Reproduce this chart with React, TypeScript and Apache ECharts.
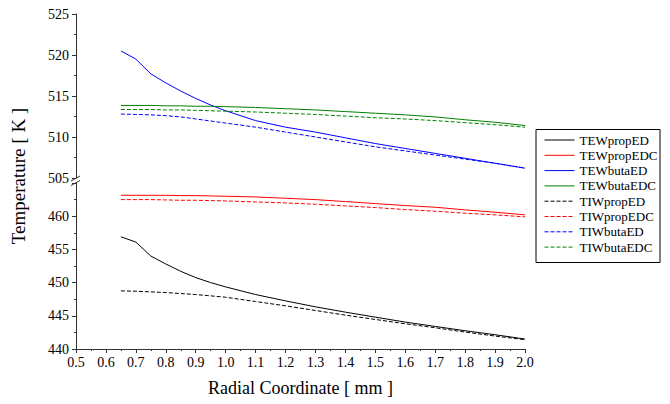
import React, { useEffect, useRef } from "react";
import * as echarts from "echarts";

const xs = [0.65, 0.7, 0.75, 0.8, 0.85, 0.9, 0.95, 1.0, 1.1, 1.2, 1.3, 1.4, 1.5, 1.6, 1.7, 1.8, 1.9, 2.0];

// lower panel (propane)
const TEWpropED = [456.9, 456.1, 454.0, 452.8, 451.7, 450.75, 450.0, 449.35, 448.2, 447.25, 446.35, 445.55, 444.8, 444.05, 443.4, 442.75, 442.15, 441.5];
const TEWpropEDC = [463.15, 463.15, 463.15, 463.15, 463.1, 463.1, 463.05, 463.0, 462.9, 462.7, 462.5, 462.2, 461.9, 461.6, 461.35, 460.95, 460.6, 460.2];
const TIWpropED = [448.75, 448.7, 448.6, 448.5, 448.35, 448.2, 448.0, 447.8, 447.15, 446.5, 445.8, 445.1, 444.45, 443.8, 443.2, 442.55, 441.95, 441.4];
const TIWpropEDC = [462.5, 462.5, 462.5, 462.45, 462.4, 462.4, 462.35, 462.3, 462.15, 462.0, 461.8, 461.55, 461.3, 461.0, 460.75, 460.45, 460.2, 459.9];

// upper panel (butane)
const TEWbutaED = [520.5, 519.5, 517.7, 516.6, 515.6, 514.7, 513.9, 513.2, 512.0, 511.2, 510.6, 509.9, 509.2, 508.6, 508.0, 507.4, 506.8, 506.2];
const TEWbutaEDC = [513.85, 513.85, 513.85, 513.8, 513.8, 513.75, 513.75, 513.7, 513.6, 513.45, 513.3, 513.1, 512.9, 512.7, 512.45, 512.1, 511.8, 511.4];
const TIWbutaED = [512.8, 512.75, 512.7, 512.6, 512.45, 512.2, 511.95, 511.7, 511.2, 510.6, 510.0, 509.4, 508.8, 508.3, 507.8, 507.3, 506.8, 506.2];
const TIWbutaEDC = [513.35, 513.35, 513.35, 513.3, 513.3, 513.25, 513.2, 513.15, 513.05, 512.9, 512.75, 512.55, 512.35, 512.2, 512.0, 511.75, 511.5, 511.2];

const legendNames = ["TEWpropED", "TEWpropEDC", "TEWbutaED", "TEWbutaEDC", "TIWpropED", "TIWpropEDC", "TIWbutaED", "TIWbutaEDC"];

const FONT = "'Liberation Serif', 'Times New Roman', serif";

export default function App() {
  const ref = useRef<HTMLDivElement>(null);
  useEffect(() => {
    if (!ref.current) return;
    const chart = echarts.init(ref.current, null, { renderer: "svg" });
    const mk = (name: string, vals: number[], color: string, dashed: boolean, panel: number) => ({
      name,
      type: "line",
      xAxisIndex: panel,
      yAxisIndex: panel,
      symbol: "none",
      showSymbol: false,
      data: xs.map((x, i) => [x, vals[i]]),
      lineStyle: { color, width: 1, type: dashed ? [4, 2] : "solid" },
      itemStyle: { color },
    });
    const axisCommonY = {
      type: "value",
      interval: 5,
      axisLine: { show: true, lineStyle: { color: "#333", width: 1 } },
      axisTick: { show: true, inside: false, length: 4, lineStyle: { color: "#333" } },
      minorTick: { show: true, splitNumber: 2, length: 2, lineStyle: { color: "#333" } },
      splitLine: { show: false },
      minorSplitLine: { show: false },
      axisLabel: { fontFamily: FONT, fontSize: 14, color: "#000", margin: 7 },
    };
    chart.setOption({
      animation: false,
      grid: [
        { left: 76, top: 14, width: 449, height: 164 },
        { left: 76, top: 183, width: 449, height: 166 },
      ],
      xAxis: [
        { type: "value", gridIndex: 0, min: 0.5, max: 2.0, interval: 0.1, show: false },
        {
          type: "value",
          gridIndex: 1,
          min: 0.5,
          max: 2.0,
          interval: 0.1,
          axisLine: { show: true, lineStyle: { color: "#333", width: 1 } },
          axisTick: { show: true, inside: false, length: 4, lineStyle: { color: "#333" } },
          minorTick: { show: true, splitNumber: 2, length: 2, lineStyle: { color: "#333" } },
          splitLine: { show: false },
          axisLabel: {
            fontFamily: FONT,
            fontSize: 14,
            color: "#000",
            margin: 6,
            formatter: (v: number) => v.toFixed(1),
          },
          name: "Radial Coordinate [ mm ]",
          nameLocation: "middle",
          nameGap: 30,
          nameTextStyle: { fontFamily: FONT, fontSize: 18, color: "#000" },
        },
      ],
      yAxis: [
        { ...axisCommonY, gridIndex: 0, min: 505, max: 525 },
        {
          ...axisCommonY,
          gridIndex: 1,
          min: 440,
          max: 465,
          axisLabel: { ...axisCommonY.axisLabel, showMaxLabel: false },
        },
      ],
      legend: {
        orient: "vertical",
        left: 544,
        top: 133.5,
        padding: 0,
        itemWidth: 30,
        itemHeight: 14,
        itemGap: 2.3,
        data: legendNames,
        itemStyle: { opacity: 0 },
        lineStyle: { width: 1 },
        textStyle: { fontFamily: FONT, fontSize: 13, color: "#000" },
      },
      graphic: [
        {
          type: "rect",
          shape: { x: 536, y: 129.5, width: 124, height: 133 },
          style: { fill: "none", stroke: "#000", lineWidth: 1 },
          silent: true,
        },
        {
          type: "text",
          x: 18,
          y: 176,
          rotation: Math.PI / 2,
          style: {
            text: "Temperature [ K ]",
            fontFamily: FONT,
            fontSize: 19,
            fill: "#000",
            align: "center",
            verticalAlign: "middle",
          },
        },
        {
          type: "line",
          shape: { x1: 71, y1: 181, x2: 80, y2: 176 },
          style: { stroke: "#333", lineWidth: 1 },
        },
        {
          type: "line",
          shape: { x1: 71, y1: 185.5, x2: 80, y2: 180.5 },
          style: { stroke: "#333", lineWidth: 1 },
        },
      ],
      series: [
        mk("TEWpropED", TEWpropED, "#000000", false, 1),
        mk("TEWpropEDC", TEWpropEDC, "#ff0000", false, 1),
        mk("TEWbutaED", TEWbutaED, "#0000ff", false, 0),
        mk("TEWbutaEDC", TEWbutaEDC, "#008000", false, 0),
        mk("TIWpropED", TIWpropED, "#000000", true, 1),
        mk("TIWpropEDC", TIWpropEDC, "#ff0000", true, 1),
        mk("TIWbutaED", TIWbutaED, "#0000ff", true, 0),
        mk("TIWbutaEDC", TIWbutaEDC, "#008000", true, 0),
      ],
    });
    return () => chart.dispose();
  }, []);
  return (
    <div
      ref={ref}
      style={{ position: "absolute", left: 0, top: 0, width: 670, height: 404, background: "#fff" }}
    />
  );
}
